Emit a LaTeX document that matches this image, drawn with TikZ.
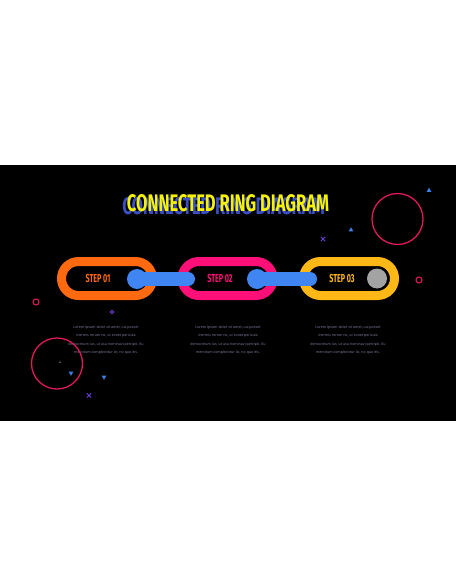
\documentclass[tikz,border=0pt]{standalone}
\usepackage{fontspec}
\setmainfont{Open Sans}
\newfontfamily\condfont[FakeStretch=0.62]{Fira Sans}
\usetikzlibrary{shapes.misc, shapes.geometric}

\definecolor{slidebg}{HTML}{000000}
\definecolor{titleyellow}{HTML}{F4F20C}
\definecolor{titleshadow}{HTML}{3B4FC4}
\definecolor{ringorange}{HTML}{FF6A10}
\definecolor{ringpink}{HTML}{FF0F78}
\definecolor{ringgold}{HTML}{FFB816}
\definecolor{linkblue}{HTML}{3F86F2}
\definecolor{knobgray}{HTML}{A3A3A3}
\definecolor{decopink}{HTML}{E0185C}
\definecolor{decoblue}{HTML}{3F7EE6}
\definecolor{decopurple}{HTML}{6B40D6}
\definecolor{bodygray}{HTML}{8585A5}

\begin{document}
\begin{tikzpicture}[x=1pt, y=-1pt,
  every node/.style={inner sep=0pt},
  ring/.style={draw, rounded rectangle, line width=9pt, minimum width=91pt, minimum height=34pt},
  steplabel/.style={font=\condfont\bfseries\fontsize{11.5}{12}\selectfont},
  knob/.style={circle, fill=linkblue, minimum size=20pt},
  linkbar/.style={linkblue, line width=14pt, line cap=round},
  bigring/.style={circle, draw=decopink, line width=1.3pt, minimum size=51pt},
  dotring/.style={circle, draw=decopink, line width=1.1pt, minimum size=6pt},
  uptri/.style={regular polygon, regular polygon sides=3, fill=decoblue, minimum size=5.5pt},
  downtri/.style={uptri, shape border rotate=180},
  cross/.style={cross out, draw=decopurple, line width=0.9pt, minimum size=3.5pt},
  bodytext/.style={align=center, text=bodygray, font=\fontsize{3.6}{8.3}\selectfont}]

% page and slide
\fill[white] (0,0) rectangle (456,586);
\fill[slidebg] (0,165) rectangle (456,421);

% title with shadow
\node (titleback) [text=titleshadow] at (223.5,206)
  {\resizebox{202pt}{17pt}{\condfont\bfseries CONNECTED RING DIAGRAM}};
\node (title) [text=titleyellow] at (228,203.5)
  {\resizebox{202pt}{17pt}{\condfont\bfseries CONNECTED RING DIAGRAM}};

% rings
\node (ring1) [ring, draw=ringorange] at (107,278.5) {};
\node (ring2) [ring, draw=ringpink]   at (227.5,278.5) {};
\node (ring3) [ring, draw=ringgold]   at (349,278.5) {};

\node (step1) [steplabel, text=ringorange] at (98,278.5)  {STEP 01};
\node (step2) [steplabel, text=ringpink]   at (220,278.5) {STEP 02};
\node (step3) [steplabel, text=ringgold]   at (342,278.5) {STEP 03};
\node (stop3) [circle, fill=knobgray, minimum size=20pt] at (377,278.5) {};

% links
\node (knob1) [knob] at (137,279) {};
\coordinate (tip1) at (188,279);
\draw[linkbar] (knob1.center) -- (tip1);
\node (knob2) [knob] at (257,279) {};
\coordinate (tip2) at (310,279);
\draw[linkbar] (knob2.center) -- (tip2);

% body texts
\node (text1) [bodytext] at (106,340) {Lorem ipsum dolor sit amet, ius posset\\
  inermis rerum no, ut sonet pericula\\
  democritum ius, ut usu nominavi percipit. Eu\\
  mentitum complectitur sit, no quo eis.};
\node (text2) [bodytext] at (228,340) {Lorem ipsum dolor sit amet, ius posset\\
  inermis rerum no, ut sonet pericula\\
  democritum ius, ut usu nominavi percipit. Eu\\
  mentitum complectitur sit, no quo eis.};
\node (text3) [bodytext] at (348,340) {Lorem ipsum dolor sit amet, ius posset\\
  inermis rerum no, ut sonet pericula\\
  democritum ius, ut usu nominavi percipit. Eu\\
  mentitum complectitur sit, no quo eis.};

% decorations
\node (bigring1) [bigring] at (397.5,219) {};
\node (bigring2) [bigring] at (57,363.5) {};
\node (dot1) [dotring] at (419,280) {};
\node (dot2) [dotring] at (36,302) {};
\node (dot3) [circle, draw=decopurple, line width=0.8pt, minimum size=3.5pt] at (112,312) {};
\node (spark) [circle, fill=knobgray, minimum size=1.5pt] at (60,362) {};
\node (tri1) [uptri] at (429,190.5) {};
\node (tri2) [uptri] at (351,230) {};
\node (tri3) [downtri] at (71,373) {};
\node (tri4) [downtri] at (104,377) {};
\node (cross1) [cross] at (323,239) {};
\node (cross2) [cross] at (89,395.5) {};
\end{tikzpicture}
\end{document}
